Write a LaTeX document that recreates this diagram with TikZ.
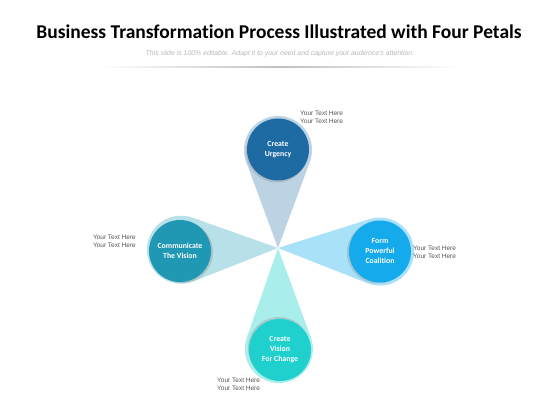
\documentclass[tikz,border=0pt]{standalone}
\usepackage{fontspec}
\setmainfont[Ligatures=NoCommon]{Carlito}
\newfontfamily\labelfont{Liberation Sans}
\usetikzlibrary{shadows,calc}
\definecolor{dkA}{HTML}{1E6AA3}\definecolor{ltA}{HTML}{BCD3E4}
\definecolor{dkB}{HTML}{2198B3}\definecolor{ltB}{HTML}{B8E0E9}
\definecolor{dkC}{HTML}{14AAEB}\definecolor{ltC}{HTML}{A9E2F8}
\definecolor{dkD}{HTML}{1FD0CD}\definecolor{ltD}{HTML}{AAEEEC}
\definecolor{txtgray}{HTML}{555555}
\tikzset{
  core/.style={circle,minimum size=62pt,inner sep=0pt,align=center,text=white,
    font=\fontsize{7.8}{10}\selectfont\bfseries},
  petalc/.style={circle,minimum size=68pt,inner sep=0pt},
  lbl/.style={font=\labelfont\fontsize{6.5}{8}\selectfont,text=txtgray,inner sep=0pt},
}
\newcommand{\drawpetal}[4]{% angle, distance, light colour, name
  \pgfmathsetmacro{\tl}{sqrt(#2*#2-34*34)}
  \pgfmathsetmacro{\ha}{asin(34/#2)}
  \fill[#3] (apex) -- ($(apex)+({#1+\ha}:\tl)$)
     -- ($(apex)+(#1:#2)$) -- ($(apex)+({#1-\ha}:\tl)$) -- cycle;
  \node[petalc,fill=#3] (#4) at ($(apex)+(#1:#2)$) {};
}
\begin{document}
\begin{tikzpicture}[x=1pt,y=1pt]
\useasboundingbox (0,0) rectangle (560,420);
\fill[white] (0,0) rectangle (560,420);
% title
\node[font=\fontsize{19.5}{21}\selectfont\bfseries,inner sep=0pt] (title) at (279,388)
  {Business Transformation Process Illustrated with Four Petals};
\node[font=\labelfont\fontsize{6.9}{8}\selectfont\itshape,text=black!28,inner sep=0pt] (sub) at (280,366)
  {This slide is 100\% editable. Adapt it to your need and capture your audience's attention.};
\shade[left color=white,right color=white,middle color=black!25] (100,352.3) rectangle (460,353.7);
% petals
\coordinate (apex) at (278,172);
\drawpetal{90}{98}{ltA}{pA}
\drawpetal{181}{97}{ltB}{pB}
\drawpetal{-2}{102}{ltC}{pC}
\drawpetal{-89.5}{101}{ltD}{pD}
% cores
\node[core,fill=dkA,drop shadow={shadow xshift=-1pt,shadow yshift=-2pt,opacity=0.3}] (cA) at (278,270.5) {Create\\Urgency};
\node[core,fill=dkB,drop shadow={shadow xshift=2pt,shadow yshift=-1pt,opacity=0.3}] (cB) at (180,169) {Communicate\\The Vision};
\node[core,fill=dkC,drop shadow={shadow xshift=-2pt,shadow yshift=-1pt,opacity=0.3}] (cC) at (380,168.5) {Form\\Powerful\\Coalition};
\node[core,fill=dkD,drop shadow={shadow xshift=-1pt,shadow yshift=2pt,opacity=0.3}] (cD) at (280,70) {Create\\Vision\\For Change};
% labels
\node[lbl,anchor=west,align=left] (lA) at (300,303) {Your Text Here\\Your Text Here};
\node[lbl,anchor=east,align=right] (lB) at (136,179) {Your Text Here\\Your Text Here};
\node[lbl,anchor=west,align=left] (lC) at (413,168) {Your Text Here\\Your Text Here};
\node[lbl,anchor=west,align=left] (lD) at (217,36) {Your Text Here\\Your Text Here};
\end{tikzpicture}
\end{document}
